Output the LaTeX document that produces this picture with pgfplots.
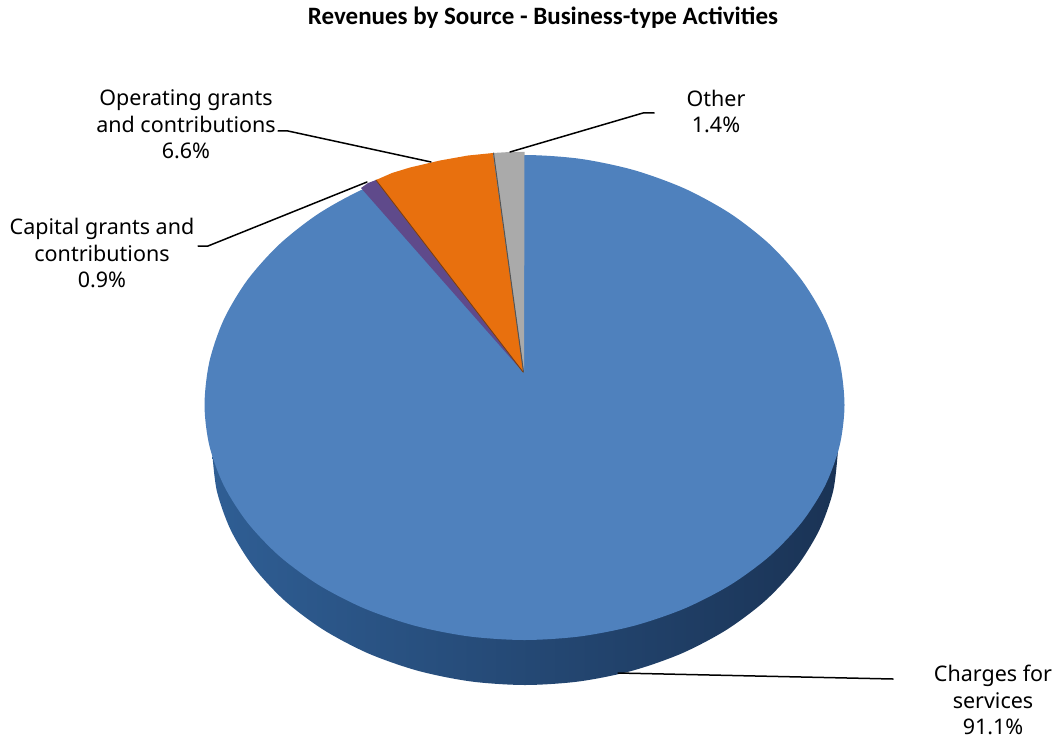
\documentclass[border=0pt]{standalone}
\usepackage{pgfplots}
\pgfplotsset{compat=1.18}
\usepackage{fontspec}
\setmainfont{Noto Sans}
\newfontfamily\titlefont{Carlito}
\definecolor{svc}{HTML}{4F81BD}
\definecolor{sideL}{HTML}{2F5E94}
\definecolor{sideM}{HTML}{20406A}
\definecolor{sideR}{HTML}{1A3355}
\definecolor{opg}{HTML}{E8700E}
\definecolor{capg}{HTML}{5F4A8B}
\definecolor{oth}{HTML}{AAAAAA}
\begin{document}
\begin{tikzpicture}
\begin{axis}[
    scale only axis,
    width=1054pt, height=738pt,
    xmin=0, xmax=1054, ymin=0, ymax=738,
    y dir=reverse,
    hide axis,
    clip=false,
    no markers,
    every axis plot/.append style={line cap=round, line join=round},
]
% all coordinates are picture pixels; this one only holds the page size
\addplot[draw=none] coordinates {(0,0) (1054,738)};
% side wall of the pie
\addplot[draw=none, shade, left color=sideL, middle color=sideM, right color=sideR, smooth] coordinates {
    (212,450) (216.8,490.8) (230.9,530.4) (253.9,567.5) (285.2,601.1) (323.8,630)
    (368.5,653.5) (418,670.8) (470.6,681.4) (525,685) (579.4,681.4) (632,670.8)
    (681.5,653.5) (726.2,630) (764.8,601.1) (796.1,567.5) (819.1,530.4) (833.2,490.8) (838,450)
};
% Charges for services 91.1
\addplot[draw=none, fill=svc, smooth cycle] coordinates {
    (844.5,405) (839.6,361.6) (825.2,319.5) (801.6,280) (769.6,244.3) (730.2,213.5)
    (684.5,188.5) (633.9,170.1) (580.1,158.8) (524.5,155) (468.9,158.8) (415.1,170.1)
    (364.5,188.5) (318.8,213.5) (279.4,244.3) (247.4,280) (223.8,319.5) (209.4,361.6)
    (204.5,405) (209.4,445.8) (223.8,485.4) (247.4,522.5) (279.4,556.1) (318.8,585)
    (364.5,608.5) (415.1,625.8) (468.9,636.4) (524.5,640) (580.1,636.4) (633.9,625.8)
    (684.5,608.5) (730.2,585) (769.6,556.1) (801.6,522.5) (825.2,485.4) (839.6,445.8)
};
% Capital grants 0.9
\addplot[draw=none, fill=capg] coordinates {(523,372) (376,180) (368,183) (361,188)};
% Operating grants 6.6
\addplot[draw=none, fill=opg] coordinates {
    (523.5,372) (493,153) (468,155.5) (440,160.5) (410,167.5) (392,173) (376,180)
};
% Other 1.4
\addplot[draw=none, fill=oth] coordinates {(524,372) (524.5,152) (510,152) (493,153)};
% slice seams
\addplot[color=black!50!oth, line width=1pt] coordinates {(493.5,153) (523.5,372)};
\addplot[color=black!45!opg, line width=0.8pt] coordinates {(376,180) (523,372)};
% leader lines
\addplot[black, line width=1.5pt] coordinates {(510,152) (643,113) (654,113)};
\addplot[black, line width=1.5pt] coordinates {(431,162) (288,131) (278,131)};
\addplot[black, line width=1.5pt] coordinates {(367,182) (208,246) (198,246)};
\addplot[black, line width=1.5pt] coordinates {(618,673) (893,679)};
% texts
\node[font=\titlefont\bfseries\fontsize{25}{30}\selectfont, inner sep=0pt] at (axis cs:543,18) {Revenues by Source - Business-type Activities};
\tikzset{lab/.style={font=\fontsize{21.5}{26.5}\selectfont, align=center, inner sep=0pt}}
\node[lab] at (axis cs:186,124.5) {Operating grants\\and contributions\\6.6\%};
\node[lab] at (axis cs:716,111.5) {Other\\1.4\%};
\node[lab] at (axis cs:102,253) {Capital grants and\\contributions\\0.9\%};
\node[lab] at (axis cs:993,700) {Charges for\\services\\91.1\%};
\end{axis}
\end{tikzpicture}
\end{document}
